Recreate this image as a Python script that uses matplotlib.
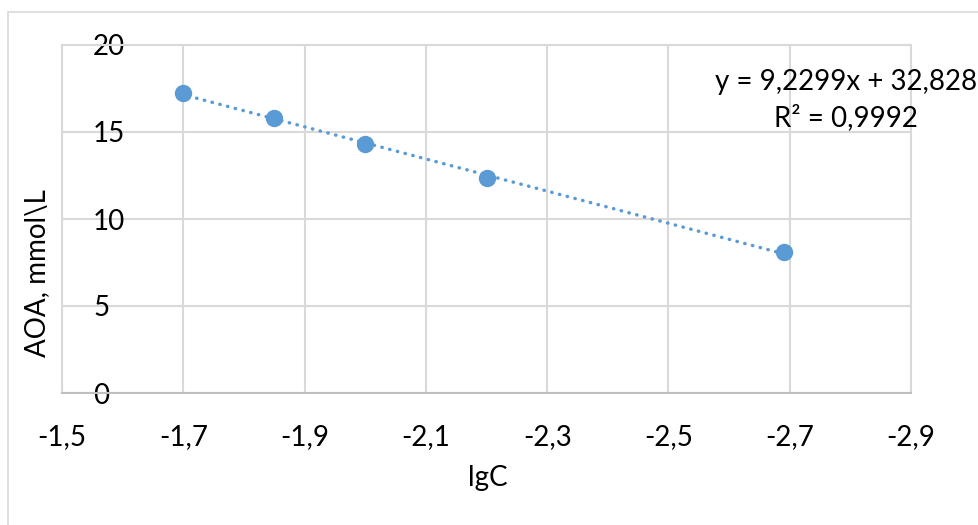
import numpy as np
import matplotlib
matplotlib.use("Agg")
import matplotlib.pyplot as plt
from matplotlib.patches import Rectangle

# Data
lgC = [-1.70, -1.85, -2.00, -2.20, -2.69]
aoa = [17.24, 15.80, 14.31, 12.36, 8.10]
x_ticks = [-1.5, -1.7, -1.9, -2.1, -2.3, -2.5, -2.7, -2.9]
y_ticks = [0, 5, 10, 15, 20]
equation_text = "y = 9,2299x + 32,828"
r2_text = "R² = 0,9992"
x_label = "lgC"
y_label = "AOA, mmol\\L"

plt.rcParams['font.family'] = ['Lato', 'DejaVu Sans']

W, H = 979, 525
fig = plt.figure(figsize=(W / 100, H / 100), dpi=100)
fig.patch.set_facecolor('white')

# outer chart border
fig.patches.append(Rectangle((8 / W, -0.1), 1.2, (1 - 12 / H) + 0.1, transform=fig.transFigure,
                             fill=False, edgecolor='#D9D9D9', linewidth=1.2))

left, right, top, bottom = 62, 911, 45, 393
ax = fig.add_axes([left / W, 1 - bottom / H, (right - left) / W, (bottom - top) / H])

blue = '#5B9BD5'
grid_c = '#D9D9D9'

ax.set_xlim(-1.5, -2.9)
ax.set_ylim(0, 20)
ax.set_xticks(x_ticks)
ax.set_yticks(y_ticks)
ax.set_xticklabels([f"{v:.1f}".replace('.', ',') for v in x_ticks])
ax.set_yticklabels([str(v) for v in y_ticks])
ax.grid(True, color=grid_c, linewidth=1.5)
ax.set_axisbelow(True)
for s in ax.spines.values():
    s.set_color(grid_c)
    s.set_linewidth(1.5)
ax.spines['bottom'].set_color('#BFBFBF')

ax.tick_params(axis='x', length=0, labelsize=20, pad=22, colors='black')
ax.tick_params(axis='y', length=0, labelsize=20, pad=-22.3, colors='black')
for lbl in ax.get_yticklabels():
    lbl.set_ha('left')

# trendline from fit
coef = np.polyfit(lgC, aoa, 1)
xs = np.array([min(lgC), max(lgC)])
ax.plot(xs, np.polyval(coef, xs), color=blue, linewidth=2.5,
        linestyle=(0, (0.1, 2.2)), dash_capstyle='round', zorder=2)
ax.plot(lgC, aoa, 'o', color=blue, markersize=11.5, zorder=3, clip_on=False)

fig.text(846 / W, 1 - 82 / H, equation_text, ha='center', va='center', fontsize=20)
fig.text(846 / W, 1 - 118 / H, r2_text, ha='center', va='center', fontsize=20)

fig.text(488 / W, 1 - 478 / H, x_label, ha='center', va='center', fontsize=20)
fig.text(37 / W, 1 - 273 / H, y_label, ha='center', va='center', fontsize=20, rotation=90)

fig.savefig('out.png', dpi=100)
